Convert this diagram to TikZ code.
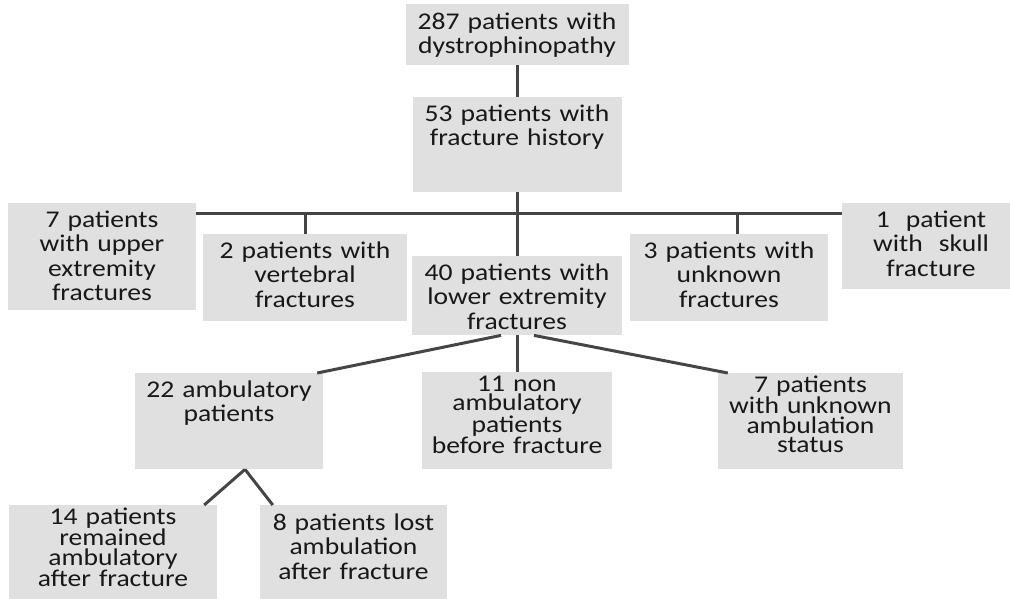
\documentclass[tikz,border=0pt]{standalone}
\usepackage{fontspec}
\setmainfont{Carlito}[FakeStretch=1.15]
\definecolor{cellgray}{HTML}{E0E0E0}
\definecolor{linkgray}{HTML}{454545}
\definecolor{inkgray}{HTML}{181818}
\tikzset{
  cell/.style={fill=cellgray, text=inkgray, inner sep=0pt, anchor=north,
    align=center, text width=#1, font=\fontsize{24}{24.5}\selectfont},
  tight/.style={font=\fontsize{24}{19.5}\selectfont},
  link/.style={draw=linkgray, line width=3pt},
}
\begin{document}
\begin{tikzpicture}[x=1pt,y=-1pt]
  \useasboundingbox (0,0) rectangle (1010,598);
  % top
  \node[cell=223pt, text height=25pt, text depth=36pt] (dys) at (517,4) {287 patients with\\dystrophinopathy};
  \node[cell=209pt, text height=24pt, text depth=71pt] (fhist) at (517,97) {53 patients with\\fracture history};
  % fracture sites
  \node[cell=188pt, text height=24pt, text depth=83pt] (upper) at (102,203) {7 patients\\with upper\\extremity\\fractures};
  \node[cell=204pt, text height=24pt, text depth=63pt] (vert) at (305,234) {2 patients with\\vertebral\\fractures};
  \node[cell=210pt, text height=24pt, text depth=55pt] (lower) at (517,256) {40 patients with\\lower extremity\\fractures};
  \node[cell=198pt, text height=24pt, text depth=63pt] (unkn) at (729,234) {3 patients with\\unknown\\fractures};
  \node[cell=178pt, text height=24pt, text depth=62pt] (skull) at (931,203) {1~~patient\\with~~skull\\fracture};
  % ambulation
  \node[cell=188pt, text height=24pt, text depth=72pt] (amb) at (229,373) {22 ambulatory\\patients};
  \node[cell=190pt, tight, text height=19pt, text depth=78pt] (nonamb) at (517,372) {11 non\\ambulatory\\patients\\before fracture};
  \node[cell=185pt, tight, text height=19pt, text depth=77pt] (unkamb) at (810.5,373) {7 patients\\with unknown\\ambulation\\status};
  \node[cell=208pt, tight, text height=19pt, text depth=95pt] (remain) at (113,505) {14 patients\\remained\\ambulatory\\after fracture};
  \node[cell=187pt, text height=25pt, text depth=90pt] (lost) at (353.5,505) {8 patients lost\\ambulation\\after fracture};
  % links
  \coordinate (bus) at (517,213);
  \coordinate (t3) at (737,213);
  \draw[link] (dys) -- (fhist);
  \draw[link] (fhist.south) -- (fhist.south |- lower.north);
  \draw[link] (upper.east |- bus) -- (skull.west |- bus);
  \draw[link] (vert.north |- bus) -- (vert.north);
  \draw[link] (t3) -- (t3 |- unkn.north);
  \draw[link] ([xshift=-16pt]lower.south) -- ([xshift=-6pt]amb.north east);
  \draw[link] (lower.south) -- (nonamb.north);
  \draw[link] ([xshift=17pt]lower.south) -- ([xshift=10pt]unkamb.north west);
  \draw[link] ([xshift=16pt]amb.south) -- ([xshift=-13pt]remain.north east);
  \draw[link] ([xshift=16pt]amb.south) -- ([xshift=13pt]lost.north west);
\end{tikzpicture}
\end{document}
